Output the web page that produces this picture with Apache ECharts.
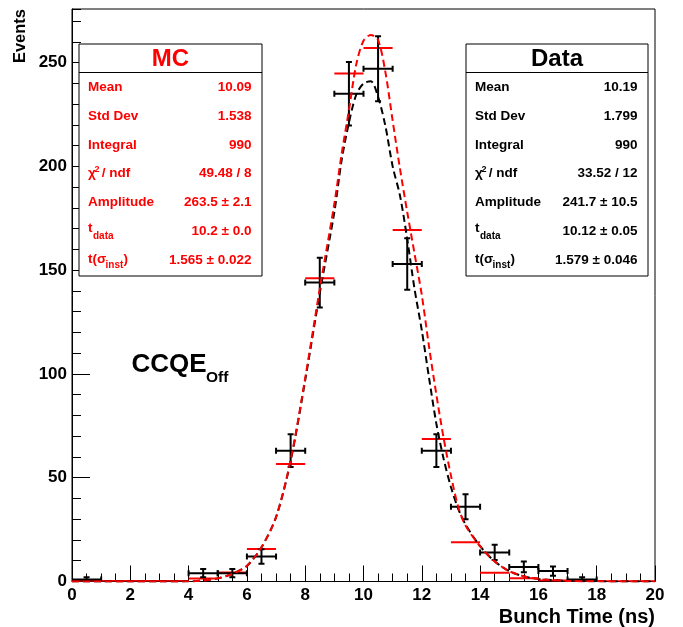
<!DOCTYPE html>
<html>
<head>
<meta charset="utf-8">
<title>Bunch time</title>
<script src="https://cdn.jsdelivr.net/npm/echarts@6/dist/echarts.min.js"></script>
<style>
  html, body { margin: 0; padding: 0; background: #fff; }
  #chart { width: 683px; height: 627px; }
</style>
</head>
<body>
<div id="chart"></div>
<script>
// histogram bins, 1 ns wide
var binWidth = 1;
var binCenters = [0.5, 1.5, 2.5, 3.5, 4.5, 5.5, 6.5, 7.5, 8.5, 9.5, 10.5, 11.5, 12.5, 13.5, 14.5, 15.5, 16.5, 17.5, 18.5, 19.5];
var dataCounts = [1, 0, 0, 0, 4, 4, 12, 63, 144, 235, 247, 153, 63, 36, 14, 7, 5, 1, 0, 0];
var dataErrors = [1, 0, 0, 0, 2, 2, 3.5, 7.9, 12, 15.3, 15.7, 12.4, 7.9, 6, 3.7, 2.6, 2.2, 1, 0, 0];
var mcCounts = [0.3, 0.2, 0.2, 0.3, 1.4, 4.3, 15.7, 56.6, 146.1, 244.7, 257, 169.3, 68.6, 18.9, 4.2, 1.6, 0.5, 0.2, 0.1, 0.1];

// fit curves
var fitTimes = [0, 1, 2, 3, 4, 4.5, 5, 5.5, 6, 6.5, 7, 7.5, 8, 8.5, 9, 9.25, 9.5, 9.75, 10, 10.25, 10.5, 10.75, 11,
  11.25, 11.5, 11.75, 12, 12.25, 12.5, 12.75, 13, 13.25, 13.5, 14, 14.5, 15, 15.5, 16, 17, 18, 19, 20];
var mcFit = [0, 0, 0, 0, 0.1, 0.5, 1.5, 3.7, 7.5, 16.5, 31, 58.5, 98, 141, 182, 206, 227, 249, 260.5, 263.3, 260.8, 245.5, 222,
  199, 178, 158, 138, 113, 90, 69, 51, 36, 27, 17, 9.7, 5, 2.5, 1.2, 0.3, 0.1, 0, 0];
var dataFit = [0, 0, 0, 0, 0.1, 0.5, 1.5, 3.7, 7.5, 16.5, 31, 58, 97, 139, 178, 203, 221, 234.5, 239.9, 241, 233.5, 219.5, 200,
  186, 165, 141, 121, 98, 76, 59, 45.5, 35, 27.5, 17, 9.7, 5, 2.5, 1.2, 0.3, 0.1, 0, 0];

// axis
var xTicks = [0, 20, 2];
var yTicks = [0, 275.8, 50];

// stat boxes
var statNames = ['Mean', 'Std Dev', 'Integral', 'chi2', 'Amplitude', 'tdata', 'tsigma'];
var mcStats = ['10.09', '1.538', '990', '49.48 / 8', '263.5 \u00b1 2.1', '10.2 \u00b1 0.0', '1.565 \u00b1 0.022'];
var dataStats = ['10.19', '1.799', '990', '33.52 / 12', '241.7 \u00b1 10.5', '10.12 \u00b1 0.05', '1.579 \u00b1 0.046'];

var FONT = '"Liberation Sans", Arial, Helvetica, sans-serif';
var RED = '#ff0000';

function txt(x, y, s, size, color, align) {
  return {
    type: 'text', x: x, y: y, z: 110,
    style: {
      text: s, fill: color, font: 'bold ' + size + 'px ' + FONT,
      textAlign: align || 'left', textVerticalAlign: 'middle'
    }
  };
}

function statLabel(name, x, y, color) {
  var f = 13.5;
  if (name === 'chi2') {
    return [txt(x, y, '\u03c7', f, color), txt(x + 6.5, y - 4, '2', 9, color), txt(x + 10, y, ' / ndf', f, color)];
  }
  if (name === 'tdata') {
    return [txt(x, y - 3.5, 't', f, color), txt(x + 5, y + 4.5, 'data', 10, color)];
  }
  if (name === 'tsigma') {
    return [txt(x, y - 1, 't(\u03c3', f, color), txt(x + 17.5, y + 4.5, 'inst', 10, color), txt(x + 35.5, y - 1, ')', f, color)];
  }
  return [txt(x, y, name, f, color)];
}

function statBox(x, w, title, values, color) {
  var els = [
    { type: 'rect', z: 100, shape: { x: x, y: 44, width: w, height: 232 }, style: { fill: '#fff', stroke: '#000', lineWidth: 1 } },
    { type: 'line', z: 101, shape: { x1: x, y1: 72.5, x2: x + w, y2: 72.5 }, style: { stroke: '#000', lineWidth: 1 } },
    txt(x + w / 2, 59, title, 24, color, 'center')
  ];
  for (var i = 0; i < statNames.length; i++) {
    var y = 87 + i * 28.9;
    els = els.concat(statLabel(statNames[i], x + 9, y, color));
    els.push(txt(x + w - 10.5, y, values[i], 13.5, color, 'right'));
  }
  return els;
}

function crossRender(color, withErrors) {
  return function (params, api) {
    var x = api.value(0), y = api.value(1), e = api.value(2);
    var half = binWidth / 2;
    var pl = api.coord([x - half, y]);
    var pr = api.coord([x + half, y]);
    var st = { stroke: color, lineWidth: 2 };
    var kids = [{ type: 'line', shape: { x1: pl[0], y1: pl[1], x2: pr[0], y2: pr[1] }, style: st }];
    if (withErrors) {
      var pt = api.coord([x, y + e]);
      var pb = api.coord([x, y - e]);
      kids.push({ type: 'line', shape: { x1: pt[0], y1: pt[1], x2: pb[0], y2: pb[1] }, style: st });
      kids.push({ type: 'line', shape: { x1: pt[0] - 3, y1: pt[1], x2: pt[0] + 3, y2: pt[1] }, style: st });
      kids.push({ type: 'line', shape: { x1: pb[0] - 3, y1: pb[1], x2: pb[0] + 3, y2: pb[1] }, style: st });
      kids.push({ type: 'line', shape: { x1: pl[0], y1: pl[1] - 3, x2: pl[0], y2: pl[1] + 3 }, style: st });
      kids.push({ type: 'line', shape: { x1: pr[0], y1: pr[1] - 3, x2: pr[0], y2: pr[1] + 3 }, style: st });
    }
    return { type: 'group', children: kids };
  };
}

var dataPts = [], mcPts = [], mcCurve = [], dataCurve = [];
for (var i = 0; i < binCenters.length; i++) {
  if (dataCounts[i] > 0) dataPts.push([binCenters[i], dataCounts[i], dataErrors[i]]);
  mcPts.push([binCenters[i], mcCounts[i], 0]);
}
for (var j = 0; j < fitTimes.length; j++) {
  mcCurve.push([fitTimes[j], mcFit[j]]);
  dataCurve.push([fitTimes[j], dataFit[j]]);
}

var tickLabel = { color: '#000', fontSize: 17, fontWeight: 'bold', fontFamily: FONT };

var chart = echarts.init(document.getElementById('chart'));
chart.setOption({
  animation: false,
  backgroundColor: '#fff',
  grid: {
    left: 72, right: 28, top: 9, bottom: 45.5,
    show: true, borderColor: '#000', borderWidth: 1,
    containLabel: false, outerBoundsMode: 'none'
  },
  xAxis: {
    type: 'value', min: xTicks[0], max: xTicks[1], interval: xTicks[2],
    axisLine: { show: true, lineStyle: { color: '#000', width: 1 } },
    axisTick: { show: true, inside: true, length: 16, lineStyle: { color: '#000', width: 1 } },
    minorTick: { show: true, splitNumber: 4, length: 8, lineStyle: { color: '#000', width: 1 } },
    splitLine: { show: false },
    axisLabel: Object.assign({ margin: 5 }, tickLabel)
  },
  yAxis: [{
    type: 'value', min: yTicks[0], max: yTicks[1], interval: yTicks[2],
    axisLine: { show: true, lineStyle: { color: '#000', width: 1 } },
    axisTick: { show: true, inside: true, length: 18, lineStyle: { color: '#000', width: 1 } },
    splitLine: { show: false },
    axisLabel: Object.assign({ margin: 5, showMaxLabel: false }, tickLabel)
  }, {
    type: 'value', min: yTicks[0], max: yTicks[1], interval: 10, position: 'left',
    axisLine: { show: false },
    axisTick: { show: true, inside: true, length: 9, lineStyle: { color: '#000', width: 1 } },
    splitLine: { show: false },
    axisLabel: { show: false }
  }],
  series: [{
    type: 'custom', name: 'MC', clip: true,
    renderItem: crossRender(RED, false),
    encode: { x: 0, y: 1 }, data: mcPts, z: 3
  }, {
    type: 'custom', name: 'Data', clip: true,
    renderItem: crossRender('#000', true),
    encode: { x: 0, y: 1 }, data: dataPts, z: 4
  }, {
    type: 'line', name: 'Data fit', data: dataCurve, smooth: 0.3, showSymbol: false, symbol: 'none',
    lineStyle: { color: '#000', width: 2, type: [7, 4] }, z: 5
  }, {
    type: 'line', name: 'MC fit', data: mcCurve, smooth: 0.3, showSymbol: false, symbol: 'none',
    lineStyle: { color: RED, width: 2, type: [7, 4] }, z: 6
  }],
  graphic: [].concat(
    statBox(79, 183, 'MC', mcStats, RED),
    statBox(466, 182, 'Data', dataStats, '#000'),
    [
      txt(131.5, 365, 'CCQE', 26, '#000'),
      txt(206, 377.5, 'Off', 15.5, '#000'),
      txt(655, 617.5, 'Bunch Time (ns)', 20, '#000', 'right'),
      {
        type: 'text', x: 20.5, y: 9, rotation: Math.PI / 2, z: 110,
        style: { text: 'Events', fill: '#000', font: 'bold 16.5px ' + FONT, textAlign: 'right', textVerticalAlign: 'middle' }
      }
    ]
  )
});
</script>
</body>
</html>
